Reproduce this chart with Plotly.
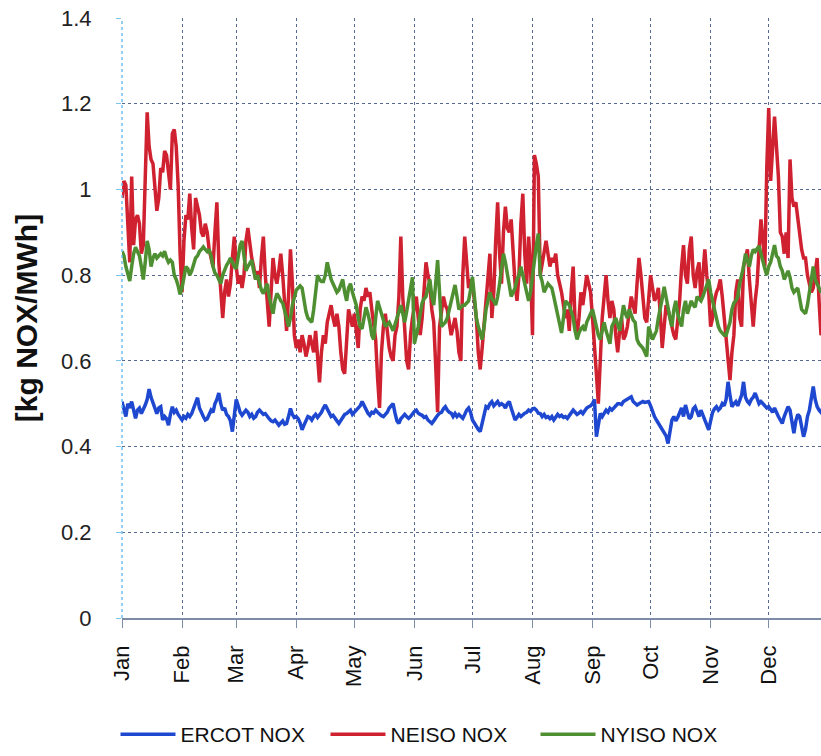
import plotly.graph_objects as go

months = ["Jan", "Feb", "Mar", "Apr", "May", "Jun", "Jul", "Aug", "Sep", "Oct", "Nov", "Dec"]
month_start_day = [0, 31, 59, 90, 120, 151, 181, 212, 243, 273, 304, 334]
y_ticks = [0, 0.2, 0.4, 0.6, 0.8, 1.0, 1.2, 1.4]
y_ticktext = ["0", "0.2", "0.4", "0.6", "0.8", "1", "1.2", "1.4"]

ercot_nox = [
    0.505, 0.49, 0.47, 0.50, 0.49, 0.505, 0.48, 0.466, 0.485, 0.49, 0.477, 0.485, 0.497, 0.51, 0.534, 0.515, 0.50, 0.485, 0.477, 0.49,
    0.493, 0.462, 0.47, 0.465, 0.45, 0.475, 0.493, 0.48, 0.485, 0.475, 0.47, 0.462, 0.47, 0.466, 0.475, 0.47, 0.477, 0.49, 0.505, 0.514,
    0.49, 0.477, 0.47, 0.462, 0.465, 0.475, 0.485, 0.48, 0.50, 0.51, 0.525, 0.50, 0.485, 0.49, 0.475, 0.47, 0.46, 0.435, 0.47, 0.51,
    0.495, 0.48, 0.473, 0.478, 0.485, 0.48, 0.47, 0.475, 0.466, 0.47, 0.48, 0.485, 0.48, 0.475, 0.477, 0.47, 0.465, 0.46, 0.458, 0.462,
    0.455, 0.45, 0.455, 0.46, 0.452, 0.454, 0.47, 0.489, 0.475, 0.468, 0.47, 0.465, 0.455, 0.439, 0.45, 0.462, 0.47, 0.468, 0.462, 0.47,
    0.475, 0.468, 0.473, 0.48, 0.49, 0.497, 0.488, 0.48, 0.47, 0.473, 0.468, 0.46, 0.454, 0.462, 0.47, 0.475, 0.477, 0.48, 0.485, 0.475,
    0.48, 0.485, 0.49, 0.495, 0.505, 0.495, 0.485, 0.478, 0.473, 0.48, 0.478, 0.485, 0.48, 0.475, 0.472, 0.47, 0.475, 0.48, 0.49, 0.495,
    0.50, 0.478, 0.46, 0.454, 0.465, 0.47, 0.475, 0.47, 0.466, 0.47, 0.478, 0.482, 0.485, 0.478, 0.475, 0.473, 0.468, 0.47, 0.462, 0.458,
    0.454, 0.46, 0.468, 0.473, 0.478, 0.48, 0.488, 0.493, 0.485, 0.48, 0.478, 0.47, 0.477, 0.47, 0.475, 0.47, 0.466, 0.475, 0.485, 0.49,
    0.48, 0.462, 0.455, 0.445, 0.44, 0.435, 0.455, 0.475, 0.493, 0.49, 0.50, 0.505, 0.495, 0.50, 0.505, 0.497, 0.50, 0.497, 0.49, 0.50,
    0.505, 0.49, 0.475, 0.462, 0.468, 0.475, 0.47, 0.475, 0.478, 0.48, 0.485, 0.482, 0.488, 0.489, 0.485, 0.478, 0.477, 0.47, 0.475, 0.468,
    0.47, 0.465, 0.47, 0.462, 0.468, 0.475, 0.47, 0.473, 0.468, 0.47, 0.466, 0.472, 0.478, 0.485, 0.48, 0.475, 0.478, 0.482, 0.477, 0.485,
    0.49, 0.493, 0.495, 0.50, 0.51, 0.423, 0.45, 0.477, 0.47, 0.478, 0.485, 0.48, 0.489, 0.485, 0.49, 0.495, 0.50, 0.50, 0.498, 0.505,
    0.508, 0.51, 0.512, 0.516, 0.505, 0.50, 0.497, 0.50, 0.502, 0.505, 0.503, 0.505, 0.505, 0.495, 0.48, 0.47, 0.462, 0.455, 0.446, 0.44,
    0.435, 0.425, 0.407, 0.43, 0.462, 0.47, 0.46, 0.468, 0.477, 0.49, 0.47, 0.497, 0.48, 0.465, 0.47, 0.488, 0.493, 0.48, 0.47, 0.485,
    0.473, 0.46, 0.45, 0.439, 0.46, 0.48, 0.488, 0.493, 0.485, 0.49, 0.50, 0.495, 0.51, 0.551, 0.52, 0.493, 0.50, 0.505, 0.495, 0.51,
    0.52, 0.551, 0.515, 0.505, 0.50, 0.51, 0.515, 0.525, 0.51, 0.50, 0.505, 0.50, 0.495, 0.49, 0.493, 0.485, 0.48, 0.49, 0.477, 0.47,
    0.462, 0.454, 0.47, 0.48, 0.493, 0.485, 0.45, 0.431, 0.46, 0.475, 0.47, 0.45, 0.423, 0.44, 0.47, 0.485, 0.51, 0.54, 0.51, 0.493,
    0.485, 0.48, 0.49, 0.485, 0.48,
]

neiso_nox = [
    0.98, 1.02, 1.01, 0.90, 0.83, 1.03, 0.87, 0.93, 0.94, 0.92, 0.85, 0.87, 1.00, 1.18, 1.10, 1.07, 1.06, 1.00, 0.95, 0.98,
    1.05, 1.04, 1.09, 1.08, 1.03, 1.00, 1.13, 1.14, 1.10, 1.01, 0.85, 0.76, 0.88, 0.94, 0.93, 0.99, 0.91, 0.86, 0.98, 0.96,
    0.94, 0.90, 0.89, 0.92, 0.90, 0.86, 0.84, 0.82, 0.90, 0.97, 0.83, 0.76, 0.70, 0.76, 0.79, 0.75, 0.78, 0.84, 0.89, 0.82,
    0.78, 0.80, 0.77, 0.80, 0.88, 0.91, 0.87, 0.84, 0.82, 0.79, 0.81, 0.77, 0.84, 0.89, 0.80, 0.73, 0.68, 0.76, 0.84, 0.80,
    0.78, 0.81, 0.85, 0.80, 0.72, 0.67, 0.75, 0.86, 0.78, 0.66, 0.63, 0.65, 0.62, 0.66, 0.64, 0.61, 0.63, 0.66, 0.64, 0.62,
    0.67, 0.60, 0.55, 0.62, 0.66, 0.64, 0.69, 0.71, 0.73, 0.70, 0.68, 0.71, 0.68, 0.62, 0.58, 0.57, 0.64, 0.72, 0.70, 0.68,
    0.71, 0.66, 0.63, 0.72, 0.75, 0.74, 0.77, 0.75, 0.76, 0.72, 0.68, 0.65, 0.56, 0.49, 0.62, 0.68, 0.71, 0.67, 0.63, 0.61,
    0.60, 0.66, 0.68, 0.75, 0.89, 0.75, 0.66, 0.60, 0.58, 0.66, 0.70, 0.73, 0.75, 0.70, 0.66, 0.70, 0.77, 0.83, 0.80, 0.78,
    0.72, 0.69, 0.59, 0.48, 0.68, 0.71, 0.75, 0.73, 0.72, 0.69, 0.66, 0.68, 0.70, 0.67, 0.62, 0.60, 0.80, 0.89, 0.84, 0.77,
    0.79, 0.78, 0.74, 0.70, 0.62, 0.58, 0.63, 0.68, 0.75, 0.80, 0.85, 0.70, 0.76, 0.88, 0.97, 0.85, 0.78, 0.90, 0.96, 0.91,
    0.90, 0.93, 0.84, 0.78, 0.74, 0.80, 0.92, 0.99, 0.85, 0.78, 0.89, 0.82, 0.66, 1.08, 1.06, 1.03, 0.80, 0.83, 0.86, 0.88,
    0.85, 0.82, 0.84, 0.83, 0.85, 0.80, 0.78, 0.76, 0.73, 0.70, 0.72, 0.67, 0.76, 0.82, 0.69, 0.66, 0.70, 0.76, 0.73, 0.77,
    0.80, 0.78, 0.76, 0.70, 0.62, 0.57, 0.50, 0.62, 0.70, 0.75, 0.80, 0.74, 0.70, 0.74, 0.72, 0.66, 0.62, 0.67, 0.70, 0.65,
    0.66, 0.68, 0.72, 0.75, 0.73, 0.71, 0.78, 0.84, 0.80, 0.74, 0.70, 0.69, 0.74, 0.80, 0.77, 0.74, 0.75, 0.77, 0.71, 0.63,
    0.68, 0.73, 0.72, 0.70, 0.68, 0.66, 0.65, 0.70, 0.74, 0.82, 0.87, 0.80, 0.78, 0.86, 0.89, 0.80, 0.77, 0.81, 0.83, 0.74,
    0.79, 0.86, 0.80, 0.76, 0.68, 0.70, 0.74, 0.76, 0.77, 0.79, 0.75, 0.70, 0.65, 0.60, 0.555, 0.62, 0.66, 0.76, 0.79, 0.70,
    0.68, 0.82, 0.84, 0.86, 0.79, 0.74, 0.68, 0.74, 0.78, 0.86, 0.93, 0.88, 0.82, 1.05, 1.19, 1.02, 1.10, 1.17, 1.10, 1.03,
    0.90, 0.89, 0.85, 0.90, 0.84, 1.07, 0.98, 0.96, 0.97, 0.93, 0.90, 0.86, 0.84, 0.84, 0.80, 0.78, 0.76, 0.77, 0.80, 0.84,
    0.74, 0.66, 0.68, 0.71, 0.70,
]

nyiso_nox = [
    0.856, 0.845, 0.82, 0.80, 0.786, 0.82, 0.85, 0.865, 0.855, 0.845, 0.82, 0.79, 0.83, 0.88, 0.86, 0.82, 0.84, 0.85, 0.84, 0.845,
    0.85, 0.845, 0.856, 0.84, 0.83, 0.835, 0.83, 0.80, 0.79, 0.775, 0.755, 0.77, 0.80, 0.82, 0.815, 0.80, 0.81, 0.825, 0.84, 0.845,
    0.855, 0.86, 0.866, 0.86, 0.855, 0.86, 0.845, 0.82, 0.805, 0.80, 0.79, 0.78, 0.80, 0.815, 0.823, 0.83, 0.84, 0.83, 0.82, 0.815,
    0.84, 0.87, 0.88, 0.84, 0.81, 0.82, 0.83, 0.835, 0.81, 0.79, 0.80, 0.78, 0.765, 0.757, 0.77, 0.78, 0.75, 0.73, 0.71, 0.74,
    0.757, 0.75, 0.74, 0.735, 0.72, 0.70, 0.68, 0.70, 0.73, 0.75, 0.765, 0.77, 0.775, 0.77, 0.74, 0.715, 0.70, 0.695, 0.69, 0.72,
    0.76, 0.80, 0.79, 0.785, 0.785, 0.80, 0.83, 0.81, 0.79, 0.78, 0.77, 0.76, 0.765, 0.78, 0.79, 0.76, 0.74, 0.77, 0.78, 0.76,
    0.745, 0.73, 0.70, 0.68, 0.675, 0.70, 0.725, 0.71, 0.69, 0.66, 0.65, 0.70, 0.74, 0.725, 0.71, 0.70, 0.68, 0.685, 0.69, 0.68,
    0.67, 0.685, 0.70, 0.715, 0.73, 0.71, 0.69, 0.715, 0.74, 0.77, 0.795, 0.64, 0.66, 0.68, 0.71, 0.735, 0.745, 0.75, 0.77, 0.79,
    0.75, 0.73, 0.78, 0.835, 0.76, 0.68, 0.685, 0.69, 0.70, 0.72, 0.74, 0.76, 0.777, 0.75, 0.72, 0.725, 0.73, 0.73, 0.735, 0.74,
    0.765, 0.796, 0.75, 0.70, 0.68, 0.665, 0.65, 0.68, 0.72, 0.74, 0.76, 0.745, 0.74, 0.73, 0.75, 0.78, 0.82, 0.85, 0.83, 0.80,
    0.78, 0.75, 0.76, 0.77, 0.79, 0.80, 0.82, 0.80, 0.775, 0.76, 0.74, 0.76, 0.80, 0.843, 0.87, 0.897, 0.80, 0.785, 0.76, 0.77,
    0.78, 0.775, 0.77, 0.75, 0.73, 0.71, 0.69, 0.665, 0.70, 0.74, 0.735, 0.73, 0.715, 0.70, 0.67, 0.65, 0.665, 0.675, 0.68, 0.67,
    0.69, 0.70, 0.71, 0.72, 0.70, 0.68, 0.66, 0.65, 0.675, 0.69, 0.67, 0.655, 0.64, 0.68, 0.69, 0.70, 0.685, 0.67, 0.70, 0.73,
    0.71, 0.70, 0.72, 0.71, 0.695, 0.69, 0.65, 0.64, 0.635, 0.63, 0.62, 0.61, 0.68, 0.665, 0.65, 0.66, 0.67, 0.70, 0.72, 0.745,
    0.773, 0.745, 0.72, 0.70, 0.68, 0.72, 0.74, 0.71, 0.695, 0.68, 0.72, 0.74, 0.71, 0.725, 0.74, 0.73, 0.725, 0.75, 0.745, 0.74,
    0.75, 0.765, 0.78, 0.79, 0.76, 0.74, 0.72, 0.70, 0.68, 0.67, 0.665, 0.66, 0.66, 0.675, 0.69, 0.72, 0.735, 0.74, 0.75, 0.78,
    0.80, 0.82, 0.85, 0.835, 0.82, 0.845, 0.86, 0.855, 0.86, 0.868, 0.85, 0.83, 0.815, 0.80, 0.82, 0.83, 0.85, 0.87, 0.845, 0.84,
    0.82, 0.81, 0.79, 0.80, 0.81, 0.795, 0.77, 0.76, 0.765, 0.77, 0.745, 0.72, 0.715, 0.71, 0.73, 0.76, 0.79, 0.82, 0.79, 0.78,
    0.77, 0.76, 0.77, 0.78, 0.77,
]

series = [
    ("ERCOT NOX", ercot_nox, "#1f48d0"),
    ("NEISO NOX", neiso_nox, "#cf2130"),
    ("NYISO NOX", nyiso_nox, "#4e8f32"),
]

fig = go.Figure()
for name, vals, color in series:
    fig.add_trace(go.Scatter(
        x=list(range(len(vals))), y=vals, name=name, mode="lines",
        line=dict(color=color, width=3.5),
    ))

grid_color = "#56698f"
label_font = "Liberation Sans, Arial, sans-serif"
fig.update_layout(
    width=821, height=756,
    margin=dict(l=122, r=0, t=18, b=138),
    paper_bgcolor="white", plot_bgcolor="white",
    font=dict(family=label_font, color="#222222"),
    showlegend=True,
    legend=dict(
        orientation="h", x=-0.0093, xanchor="left", y=-0.2283, yanchor="bottom",
        font=dict(family=label_font, size=21, color="#111111"),
        entrywidth=140, entrywidthmode="pixels", itemwidth=55,
    ),
    xaxis=dict(
        range=[0, 361], tickmode="array", tickvals=month_start_day, ticktext=months,
        tickangle=-90, tickfont=dict(size=22, color="#111111"),
        showgrid=True, gridcolor=grid_color, griddash="dot", gridwidth=1.2,
        showline=True, linecolor="#7d8ca6", linewidth=1.5,
        ticks="outside", ticklen=8, tickcolor="#7d8ca6",
        ticklabelstandoff=9,
        zeroline=False, automargin=False,
    ),
    yaxis=dict(
        range=[0, 1.4], tickmode="array", tickvals=y_ticks, ticktext=y_ticktext,
        tickfont=dict(size=22, color="#222222"),
        showgrid=True, gridcolor=grid_color, griddash="dot", gridwidth=1.2,
        showline=False, zeroline=False,
        ticks="outside", ticklen=5, tickcolor="#7cc4f0",
        ticklabelstandoff=20, automargin=False,
        title=dict(text="<b>[kg NOX/MWh]</b>", font=dict(family=label_font, size=30, color="#111111"), standoff=14),
    ),
)

fig.add_shape(type="line", xref="paper", yref="paper", x0=0, x1=0, y0=0, y1=1,
              line=dict(color="#6fc0f0", width=1.5, dash="dot"))

fig.write_html("out.html")
